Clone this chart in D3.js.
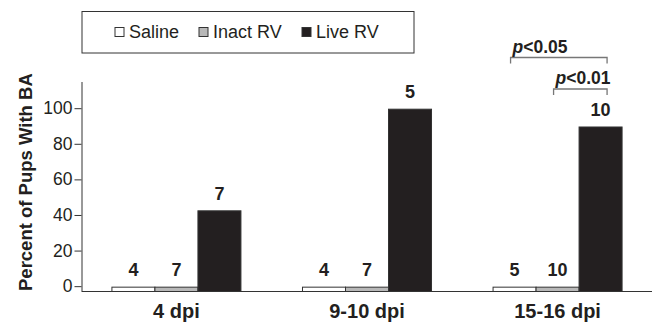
<!DOCTYPE html>
<html>
<head>
<meta charset="utf-8">
<script src="https://cdn.jsdelivr.net/npm/d3@7"></script>
<style>
  body { margin: 0; background: #fff; }
  svg text { font-family: "Liberation Sans", Arial, Helvetica, sans-serif; fill: #231f20; }
</style>
</head>
<body>
<svg width="656" height="327"></svg>
<script>
const groups = ["4 dpi", "9-10 dpi", "15-16 dpi"];
const series = ["Saline", "Inact RV", "Live RV"];
// percent of pups with BA, per group, in series order
const saline = [0, 0, 0];
const inactRV = [0, 0, 0];
const liveRV = [42.9, 100, 90];
// number of pups (n) over each bar
const nSaline = [4, 4, 5];
const nInact = [7, 7, 10];
const nLive = [7, 5, 10];
const yTicks = [0, 20, 40, 60, 80, 100];
const pValues = [
  {group: "15-16 dpi", from: "Saline", to: "Live RV", label: "<0.05"},
  {group: "15-16 dpi", from: "Inact RV", to: "Live RV", label: "<0.01"}
];

const colors = {"Saline": "#ffffff", "Inact RV": "#b8b8b8", "Live RV": "#231f20"};
const values = [saline, inactRV, liveRV];
const counts = [nSaline, nInact, nLive];

const data = [];
groups.forEach((g, gi) => {
  series.forEach((s, si) => {
    data.push({group: g, series: s, value: values[si][gi], n: counts[si][gi]});
  });
});

const svg = d3.select("svg");
const baseY = 291.5;

const x = d3.scaleBand().domain(groups).range([82, 652])
            .paddingInner(0.323).paddingOuter(0.157);
const xs = d3.scaleBand().domain(series).range([0, x.bandwidth()]);
const y = d3.scaleLinear().domain([-3, 115]).range([baseY, 81.5]);

// y axis
const yAxis = svg.append("g")
  .attr("transform", "translate(81.5,0)")
  .call(d3.axisLeft(y).tickValues(yTicks).tickSize(7).tickSizeOuter(0).tickPadding(2));
yAxis.selectAll("path, line").attr("stroke", "#333");
yAxis.selectAll("text").style("font-size", "17.5px").attr("fill", "#231f20");

// x axis
const xAxis = svg.append("g")
  .attr("transform", `translate(0,${baseY})`)
  .call(d3.axisBottom(x).tickSize(0).tickSizeOuter(0));
xAxis.select(".domain").attr("stroke", "#333").attr("d", "M82,0H652");
xAxis.selectAll("text")
  .attr("dy", 0).attr("y", 26)
  .style("font-size", "20px").style("font-weight", "bold").attr("fill", "#231f20");

// y title
svg.append("text")
  .attr("transform", "translate(32,291) rotate(-90)")
  .style("font-size", "18.5px").style("font-weight", "bold")
  .text("Percent of Pups With BA");

// bars
svg.append("g").selectAll("rect")
  .data(data).join("rect")
  .attr("x", d => x(d.group) + xs(d.series))
  .attr("y", d => Math.min(y(d.value) + 1, baseY - 4))
  .attr("width", xs.bandwidth())
  .attr("height", d => baseY - Math.min(y(d.value) + 1, baseY - 4))
  .attr("fill", d => colors[d.series])
  .attr("stroke", "#333").attr("stroke-width", 1);

// n labels
svg.append("g").selectAll("text")
  .data(data).join("text")
  .attr("x", d => x(d.group) + xs(d.series) + xs.bandwidth() / 2)
  .attr("y", d => y(d.value) - 10)
  .attr("text-anchor", "middle")
  .style("font-size", "18px").style("font-weight", "bold")
  .text(d => d.n);

// significance brackets
const center = (g, s) => x(g) + xs(s) + xs.bandwidth() / 2;
const bracketY = [57.5, 89];
pValues.forEach((p, i) => {
  const x0 = center(p.group, p.from) - 4;
  const x1 = center(p.group, p.to) + 6.5;
  const by = bracketY[i];
  svg.append("path")
    .attr("d", `M${x0},${by + 6}V${by}H${x1}V${by + 6}`)
    .attr("fill", "none").attr("stroke", "#777").attr("stroke-width", 1.3);
  const t = svg.append("text")
    .attr("x", x0 + 2).attr("y", by - 5)
    .style("font-size", "17.5px").style("font-weight", "bold");
  t.append("tspan").style("font-style", "italic").text("p");
  t.append("tspan").text(p.label);
});

// legend
const legend = svg.append("g");
legend.append("rect")
  .attr("x", 82).attr("y", 11.5).attr("width", 332).attr("height", 41.5)
  .attr("fill", "none").attr("stroke", "#333").attr("stroke-width", 1);
const legX = [115, 199, 302];
series.forEach((s, i) => {
  legend.append("rect")
    .attr("x", legX[i]).attr("y", 27.5).attr("width", 9).attr("height", 9)
    .attr("fill", colors[s]).attr("stroke", "#333").attr("stroke-width", 1);
  legend.append("text")
    .attr("x", legX[i] + 14).attr("y", 38)
    .style("font-size", "18px")
    .text(s);
});
</script>
</body>
</html>
